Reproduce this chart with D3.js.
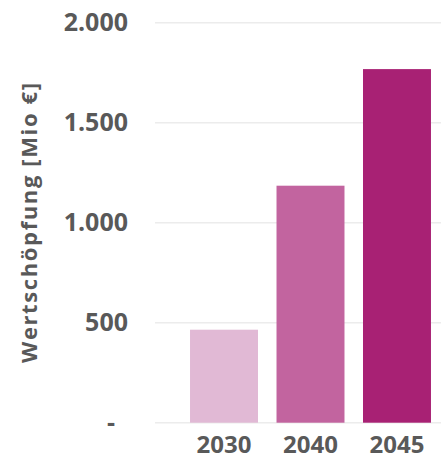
<!DOCTYPE html>
<html>
<head>
<meta charset="utf-8">
<script src="https://cdn.jsdelivr.net/npm/d3@7"></script>
<style>
  html, body { margin: 0; padding: 0; background: #fff; }
  svg { display: block; }
</style>
</head>
<body>
<svg id="chart" width="441" height="460"></svg>
<script>
const categories = ["2030", "2040", "2045"];
const values = [465, 1185, 1768];
const barColors = ["#E1B9D5", "#C2649F", "#A82174"];
const yTicks = [0, 500, 1000, 1500, 2000];
const yTickLabels = ["-", "500", "1.000", "1.500", "2.000"];
const yTitle = "Wertschöpfung [Mio €]";

const W = 441, H = 460;
const svg = d3.select("#chart");
const font = "'Open Sans', sans-serif";
const textColor = "#595959";

const y = d3.scaleLinear().domain([0, 2000]).range([422.7, 22.7]);
const x = d3.scaleBand().domain(categories).range([155, 466])
  .paddingInner(0.214).paddingOuter(0.405);

// gridlines
svg.append("g").selectAll("line").data(yTicks).join("line")
  .attr("x1", 155).attr("x2", W)
  .attr("y1", d => y(d)).attr("y2", d => y(d))
  .attr("stroke", "#ECECEC").attr("stroke-width", 1.5);

// bars
svg.append("g").selectAll("rect").data(values).join("rect")
  .attr("x", (d, i) => x(categories[i]))
  .attr("width", x.bandwidth())
  .attr("y", d => y(d))
  .attr("height", d => y(0) - y(d))
  .attr("fill", (d, i) => barColors[i]);

// y axis labels
const yAxis = d3.axisLeft(y).tickValues(yTicks)
  .tickFormat((d, i) => yTickLabels[i]).tickSize(0).tickPadding(0);
const gy = svg.append("g").attr("transform", "translate(128,0)").call(yAxis);
gy.select(".domain").remove();
gy.selectAll("text")
  .attr("fill", textColor)
  .style("font-family", font).style("font-weight", 700).style("font-size", "25px")
  .attr("dx", (d) => d === 0 ? -13 : 0);

// x axis labels
const xAxis = d3.axisBottom(x).tickSize(0).tickPadding(0);
const gx = svg.append("g").attr("transform", "translate(0,436)").call(xAxis);
gx.select(".domain").remove();
gx.selectAll("text")
  .attr("fill", textColor)
  .style("font-family", font).style("font-weight", 700).style("font-size", "24px");

// y title
svg.append("text")
  .attr("transform", "translate(37,223) rotate(-90)")
  .attr("text-anchor", "middle")
  .attr("fill", textColor)
  .attr("textLength", 280)
  .attr("lengthAdjust", "spacing")
  .style("font-family", font).style("font-weight", 700).style("font-size", "22px")
  .text(yTitle);
</script>
</body>
</html>
